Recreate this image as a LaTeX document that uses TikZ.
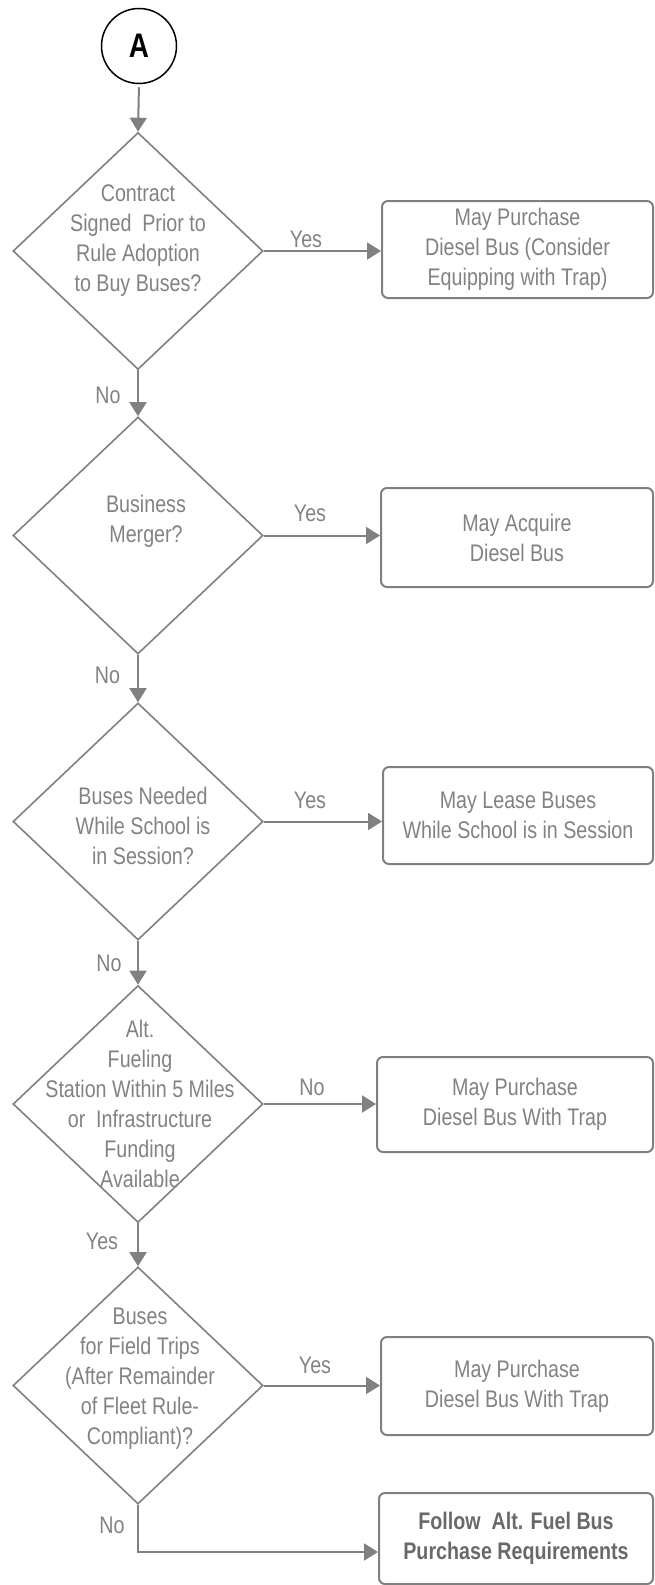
\documentclass[tikz,border=0pt]{standalone}
\usepackage{fontspec}
\setmainfont{Liberation Sans}[FakeStretch=0.82]
\usetikzlibrary{shapes.geometric,arrows.meta}
\definecolor{lg}{RGB}{128,128,128}
\definecolor{tg}{RGB}{130,130,130}
\definecolor{bg}{RGB}{105,105,105}
\begin{document}
\begin{tikzpicture}[x=1pt,y=-1pt,
  dia/.style={diamond, draw=lg, line width=1.6pt, minimum width=250pt, minimum height=237pt, inner sep=0pt},
  box/.style={draw=lg, line width=2pt, rounded corners=6pt, align=center, text=tg, inner sep=0pt, font=\fontsize{24}{30}\selectfont},
  dtext/.style={align=center, text=tg, font=\fontsize{24}{30}\selectfont, inner sep=0pt},
  lab/.style={text=tg, font=\fontsize{24}{30}\selectfont, inner sep=0pt, text height=17pt, text depth=0pt},
  arr/.style={draw=lg, line width=2pt, -{Triangle[length=14pt,width=17pt]}},
]
\useasboundingbox (0,0) rectangle (654,1585);

% start
\node[circle, draw=black, line width=1.5pt, minimum size=75pt, inner sep=0pt, font=\fontsize{34}{40}\selectfont\bfseries] (A) at (139,46) {A};

% decisions
\node[dia] (d1) at (138,251) {};
\node[dia] (d2) at (138,535.5) {};
\node[dia] (d3) at (138,821.5) {};
\node[dia] (d4) at (138,1104) {};
\node[dia] (d5) at (138,1385.5) {};

\node[dtext] (t1) at (138,241) {Contract\\Signed\ \ Prior to\\Rule Adoption\\to Buy Buses?};
\node[dtext] (t2) at (146,521) {Business\\Merger?};
\node[dtext] (t3) at (143,826) {Buses Needed\\While School is\\in Session?};
\node[dtext] (t4) at (140,1104) {Alt.\\Fueling\\Station Within 5 Miles\\or\ \ Infrastructure\\Funding\\Available};
\node[dtext] (t5) at (140,1379) {Buses\\for Field Trips\\(After Remainder\\of Fleet Rule-\\Compliant)?};

% outcome boxes
\node[box, minimum width=271pt, minimum height=97pt] (b1) at (517.5,249.5) {May Purchase\\Diesel Bus (Consider\\Equipping with Trap)};
\node[box, minimum width=272pt, minimum height=99pt] (b2) at (517,537.5) {May Acquire\\Diesel Bus};
\node[box, minimum width=270pt, minimum height=97pt] (b3) at (518,815.5) {May Lease Buses\\While School is in Session};
\node[box, minimum width=276pt, minimum height=95pt] (b4) at (515,1104.5) {May Purchase\\Diesel Bus With Trap};
\node[box, minimum width=272pt, minimum height=98pt] (b5) at (517,1386) {May Purchase\\Diesel Bus With Trap};
\node[box, minimum width=274pt, minimum height=91pt, text=bg, font=\fontsize{24}{30}\selectfont\bfseries] (b6) at (516,1538.5) {Follow\ \ Alt. Fuel Bus\\Purchase Requirements};

% connectors
\draw[arr, shorten <=3pt] (A.south) -- (d1.north);
\draw[arr] (d1.south) -- (d2.north);
\draw[arr] (d2.south) -- (d3.north);
\draw[arr] (d3.south) -- (d4.north);
\draw[arr] (d4.south) -- (d5.north);
\draw[arr] (d1.east) -- (d1.east -| b1.west);
\draw[arr] (d2.east) -- (d2.east -| b2.west);
\draw[arr] (d3.east) -- (d3.east -| b3.west);
\draw[arr] (d4.east) -- (d4.east -| b4.west);
\draw[arr] (d5.east) -- (d5.east -| b5.west);
\coordinate (c6) at (138,1552);
\draw[arr] (d5.south) -- (c6) -- (c6 -| b6.west);

% labels
\node[lab] (y1) at (306,239) {Yes};
\node[lab] (n1) at (108,395) {No};
\node[lab] (y2) at (310,513) {Yes};
\node[lab] (n2) at (107.5,675) {No};
\node[lab] (y3) at (310,800) {Yes};
\node[lab] (n3) at (109,963) {No};
\node[lab] (n4) at (312,1087) {No};
\node[lab] (y4) at (102,1241) {Yes};
\node[lab] (y5) at (315,1365) {Yes};
\node[lab] (n5) at (112,1525) {No};
\end{tikzpicture}
\end{document}
